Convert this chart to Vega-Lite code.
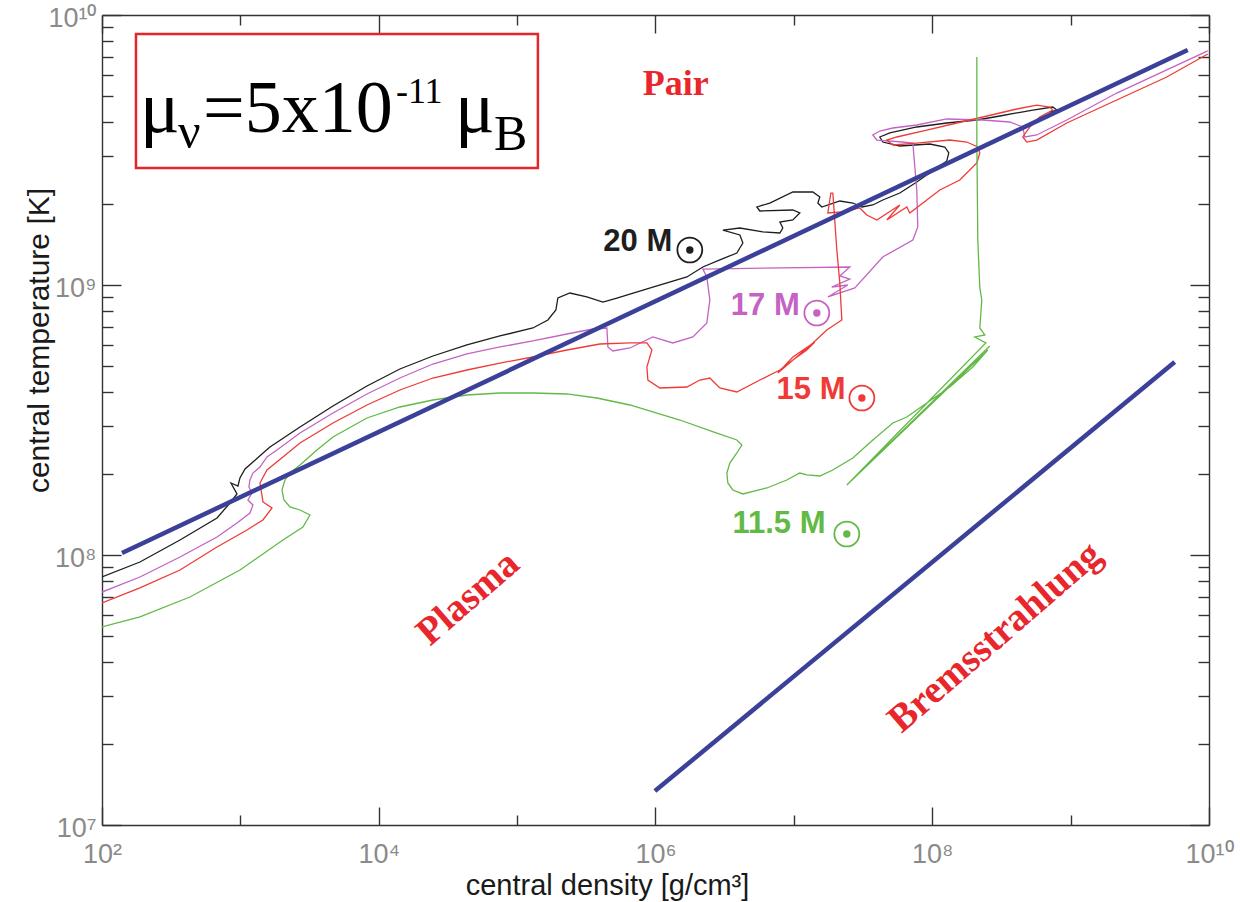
{
"$schema":"https://vega.github.io/schema/vega-lite/v6.json",
"width":1107,"height":810,
"autosize":{"type":"none"},
"padding":{"left":102,"top":15,"right":31,"bottom":77},
"background":"white",
"config":{"view":{"stroke":null}},
"datasets":{
"tracks":[
{"s":"20","i":0,"x":100,"y":8.29e7},{"s":"20","i":1,"x":188,"y":9.42e7},{"s":"20","i":2,"x":366,"y":1.137e8},{"s":"20","i":3,"x":678,"y":1.371e8},{"s":"20","i":4,"x":841,"y":1.558e8},{"s":"20","i":5,"x":945,"y":1.683e8},{"s":"20","i":6,"x":855,"y":1.848e8},{"s":"20","i":7,"x":961,"y":1.801e8},{"s":"20","i":8,"x":993,"y":1.929e8},{"s":"20","i":9,"x":1080,"y":2.082e8},{"s":"20","i":10,"x":1233,"y":2.21e8},{"s":"20","i":11,"x":1432,"y":2.366e8},{"s":"20","i":12,"x":1636,"y":2.512e8},{"s":"20","i":13,"x":2697,"y":2.979e8},{"s":"20","i":14,"x":4667,"y":3.563e8},{"s":"20","i":15,"x":8217,"y":4.227e8},{"s":"20","i":16,"x":14220,"y":4.886e8},{"s":"20","i":17,"x":24630,"y":5.458e8},{"s":"20","i":18,"x":43360,"y":5.995e8},{"s":"20","i":19,"x":75100,"y":6.474e8},{"s":"20","i":20,"x":130000,"y":6.93e8},{"s":"20","i":21,"x":166800,"y":7.42e8},{"s":"20","i":22,"x":190600,"y":8.08e8},{"s":"20","i":23,"x":197000,"y":8.95e8},{"s":"20","i":24,"x":240500,"y":9.34e8},{"s":"20","i":25,"x":319000,"y":9.03e8},{"s":"20","i":26,"x":416800,"y":8.65e8},{"s":"20","i":27,"x":525700,"y":8.95e8},{"s":"20","i":28,"x":653000,"y":9.26e8},{"s":"20","i":29,"x":957000,"y":9.83e8},{"s":"20","i":30,"x":1.686e6,"y":1.071e9},{"s":"20","i":31,"x":2.199e6,"y":1.166e9},{"s":"20","i":32,"x":2.917e6,"y":1.238e9},{"s":"20","i":33,"x":3.87e6,"y":1.314e9},{"s":"20","i":34,"x":4.28e6,"y":1.431e9},{"s":"20","i":35,"x":4.07e6,"y":1.532e9},{"s":"20","i":36,"x":3.07e6,"y":1.598e9},{"s":"20","i":37,"x":4.07e6,"y":1.626e9},{"s":"20","i":38,"x":5.97e6,"y":1.572e9},{"s":"20","i":39,"x":7.92e6,"y":1.558e9},{"s":"20","i":40,"x":8.32e6,"y":1.626e9},{"s":"20","i":41,"x":7.92e6,"y":1.711e9},{"s":"20","i":42,"x":9.83e6,"y":1.741e9},{"s":"20","i":43,"x":1.104e7,"y":1.848e9},{"s":"20","i":44,"x":9.83e6,"y":1.896e9},{"s":"20","i":45,"x":5.68e6,"y":1.88e9},{"s":"20","i":46,"x":5.4e6,"y":1.945e9},{"s":"20","i":47,"x":6.7e6,"y":2.012e9},{"s":"20","i":48,"x":9.83e6,"y":2.21e9},{"s":"20","i":49,"x":1.371e7,"y":2.21e9},{"s":"20","i":50,"x":1.54e7,"y":2.118e9},{"s":"20","i":51,"x":1.49e7,"y":2.012e9},{"s":"20","i":52,"x":1.592e7,"y":1.945e9},{"s":"20","i":53,"x":2.148e7,"y":2.047e9},{"s":"20","i":54,"x":2.667e7,"y":2.012e9},{"s":"20","i":55,"x":3.1e7,"y":1.945e9},{"s":"20","i":56,"x":3.72e7,"y":1.979e9},{"s":"20","i":57,"x":4.39e7,"y":2.065e9},{"s":"20","i":58,"x":5.83e7,"y":2.191e9},{"s":"20","i":59,"x":7.73e7,"y":2.407e9},{"s":"20","i":60,"x":1.079e8,"y":2.713e9},{"s":"20","i":61,"x":1.274e8,"y":2.88e9},{"s":"20","i":62,"x":1.317e8,"y":3.083e9},{"s":"20","i":63,"x":1.232e8,"y":3.244e9},{"s":"20","i":64,"x":9.6e7,"y":3.328e9},{"s":"20","i":65,"x":5.83e7,"y":3.272e9},{"s":"20","i":66,"x":4.39e7,"y":3.385e9},{"s":"20","i":67,"x":4.18e7,"y":3.533e9},{"s":"20","i":68,"x":4.94e7,"y":3.656e9},{"s":"20","i":69,"x":7.73e7,"y":3.848e9},{"s":"20","i":70,"x":1.274e8,"y":3.981e9},{"s":"20","i":71,"x":2.1e8,"y":4.084e9},{"s":"20","i":72,"x":3.08e8,"y":4.226e9},{"s":"20","i":73,"x":5.33e8,"y":4.447e9},{"s":"20","i":74,"x":7.43e8,"y":4.562e9},{"s":"20","i":75,"x":7.94e8,"y":4.447e9},{"s":"20","i":76,"x":7.07e8,"y":4.37e9},
{"s":"17","i":0,"x":100,"y":7.29e7},{"s":"17","i":1,"x":188,"y":8.29e7},{"s":"17","i":2,"x":366,"y":9.83e7},{"s":"17","i":3,"x":678,"y":1.166e8},{"s":"17","i":4,"x":945,"y":1.314e8},{"s":"17","i":5,"x":1173,"y":1.431e8},{"s":"17","i":6,"x":1233,"y":1.532e8},{"s":"17","i":7,"x":1134,"y":1.598e8},{"s":"17","i":8,"x":1213,"y":1.697e8},{"s":"17","i":9,"x":1153,"y":1.786e8},{"s":"17","i":10,"x":1173,"y":1.896e8},{"s":"17","i":11,"x":1233,"y":2.012e8},{"s":"17","i":12,"x":1385,"y":2.118e8},{"s":"17","i":13,"x":1556,"y":2.307e8},{"s":"17","i":14,"x":1838,"y":2.448e8},{"s":"17","i":15,"x":2697,"y":2.83e8},{"s":"17","i":16,"x":4667,"y":3.357e8},{"s":"17","i":17,"x":8217,"y":3.948e8},{"s":"17","i":18,"x":14220,"y":4.524e8},{"s":"17","i":19,"x":24630,"y":5.098e8},{"s":"17","i":20,"x":43360,"y":5.553e8},{"s":"17","i":21,"x":75100,"y":5.895e8},{"s":"17","i":22,"x":130000,"y":6.204e8},{"s":"17","i":23,"x":228900,"y":6.585e8},{"s":"17","i":24,"x":352800,"y":6.871e8},{"s":"17","i":25,"x":445400,"y":6.93e8},{"s":"17","i":26,"x":452900,"y":5.895e8},{"s":"17","i":27,"x":492000,"y":5.697e8},{"s":"17","i":28,"x":653000,"y":5.845e8},{"s":"17","i":29,"x":957000,"y":6.42e8},{"s":"17","i":30,"x":1.335e6,"y":6.1e8},{"s":"17","i":31,"x":1.862e6,"y":6.42e8},{"s":"17","i":32,"x":2.35e6,"y":7.235e8},{"s":"17","i":33,"x":2.47e6,"y":8.8e8},{"s":"17","i":34,"x":2.35e6,"y":1.071e9},{"s":"17","i":35,"x":2.199e6,"y":1.146e9},{"s":"17","i":36,"x":2.535e7,"y":1.166e9},{"s":"17","i":37,"x":2.148e7,"y":1.08e9},{"s":"17","i":38,"x":2.535e7,"y":1.052e9},{"s":"17","i":39,"x":1.879e7,"y":9.83e8},{"s":"17","i":40,"x":2.455e7,"y":1.0e9},{"s":"17","i":41,"x":1.76e7,"y":9.03e8},{"s":"17","i":42,"x":2.757e7,"y":9.75e8},{"s":"17","i":43,"x":4.39e7,"y":1.27e9},{"s":"17","i":44,"x":7.24e7,"y":1.468e9},{"s":"17","i":45,"x":7.86e7,"y":1.64e9},{"s":"17","i":46,"x":7.73e7,"y":2.248e9},{"s":"17","i":47,"x":7.24e7,"y":3.356e9},{"s":"17","i":48,"x":6.12e7,"y":3.385e9},{"s":"17","i":49,"x":3.977e7,"y":3.443e9},{"s":"17","i":50,"x":3.72e7,"y":3.594e9},{"s":"17","i":51,"x":4.18e7,"y":3.718e9},{"s":"17","i":52,"x":5.19e7,"y":3.815e9},{"s":"17","i":53,"x":7.73e7,"y":3.914e9},{"s":"17","i":54,"x":1.274e8,"y":4.12e9},{"s":"17","i":55,"x":2.32e8,"y":4.084e9},{"s":"17","i":56,"x":3.63e8,"y":4.015e9},{"s":"17","i":57,"x":4.51e8,"y":3.848e9},{"s":"17","i":58,"x":4.66e8,"y":3.533e9},{"s":"17","i":59,"x":5.69e8,"y":3.594e9},{"s":"17","i":60,"x":9.38e8,"y":4.084e9},{"s":"17","i":61,"x":2.154e9,"y":5.14e9},{"s":"17","i":62,"x":4.95e9,"y":6.26e9},{"s":"17","i":63,"x":9.79e9,"y":7.36e9},
{"s":"15","i":0,"x":100,"y":6.64e7},{"s":"15","i":1,"x":188,"y":7.55e7},{"s":"15","i":2,"x":366,"y":8.8e7},{"s":"15","i":3,"x":678,"y":1.071e8},{"s":"15","i":4,"x":1116,"y":1.238e8},{"s":"15","i":5,"x":1456,"y":1.348e8},{"s":"15","i":6,"x":1692,"y":1.493e8},{"s":"15","i":7,"x":1456,"y":1.572e8},{"s":"15","i":8,"x":1432,"y":1.668e8},{"s":"15","i":9,"x":1385,"y":1.848e8},{"s":"15","i":10,"x":1556,"y":2.065e8},{"s":"15","i":11,"x":2031,"y":2.307e8},{"s":"15","i":12,"x":2697,"y":2.598e8},{"s":"15","i":13,"x":4667,"y":3.083e8},{"s":"15","i":14,"x":8217,"y":3.594e8},{"s":"15","i":15,"x":14220,"y":4.084e8},{"s":"15","i":16,"x":24630,"y":4.524e8},{"s":"15","i":17,"x":43360,"y":4.844e8},{"s":"15","i":18,"x":75100,"y":5.14e8},{"s":"15","i":19,"x":130000,"y":5.412e8},{"s":"15","i":20,"x":228900,"y":5.745e8},{"s":"15","i":21,"x":396300,"y":6.046e8},{"s":"15","i":22,"x":653000,"y":6.1e8},{"s":"15","i":23,"x":866400,"y":6.1e8},{"s":"15","i":24,"x":941500,"y":5.745e8},{"s":"15","i":25,"x":866400,"y":4.97e8},{"s":"15","i":26,"x":880900,"y":4.447e8},{"s":"15","i":27,"x":1.076e6,"y":4.155e8},{"s":"15","i":28,"x":1.686e6,"y":4.19e8},{"s":"15","i":29,"x":2.092e6,"y":4.447e8},{"s":"15","i":30,"x":2.47e6,"y":4.524e8},{"s":"15","i":31,"x":2.917e6,"y":4.155e8},{"s":"15","i":32,"x":3.87e6,"y":4.015e8},{"s":"15","i":33,"x":5.68e6,"y":4.447e8},{"s":"15","i":34,"x":7.92e6,"y":4.844e8},{"s":"15","i":35,"x":9.83e6,"y":5.275e8},{"s":"15","i":36,"x":1.241e7,"y":5.745e8},{"s":"15","i":37,"x":1.417e7,"y":6.15e8},{"s":"15","i":38,"x":9.83e6,"y":5.412e8},{"s":"15","i":39,"x":7.66e6,"y":4.72e8},{"s":"15","i":40,"x":1.371e7,"y":6.1e8},{"s":"15","i":41,"x":1.73e7,"y":6.81e8},{"s":"15","i":42,"x":2.221e7,"y":7.42e8},{"s":"15","i":43,"x":2.148e7,"y":1.017e9},{"s":"15","i":44,"x":2.044e7,"y":1.348e9},{"s":"15","i":45,"x":1.912e7,"y":2.191e9},{"s":"15","i":46,"x":1.849e7,"y":2.191e9},{"s":"15","i":47,"x":1.76e7,"y":1.848e9},{"s":"15","i":48,"x":2.258e7,"y":1.864e9},{"s":"15","i":49,"x":2.997e7,"y":1.929e9},{"s":"15","i":50,"x":3.365e7,"y":1.817e9},{"s":"15","i":51,"x":3.977e7,"y":1.741e9},{"s":"15","i":52,"x":5.83e7,"y":1.979e9},{"s":"15","i":53,"x":4.695e7,"y":1.741e9},{"s":"15","i":54,"x":6.55e7,"y":1.945e9},{"s":"15","i":55,"x":6.88e7,"y":1.848e9},{"s":"15","i":56,"x":1.134e8,"y":2.248e9},{"s":"15","i":57,"x":1.581e8,"y":2.448e9},{"s":"15","i":58,"x":2.1e8,"y":2.83e9},{"s":"15","i":59,"x":2.207e8,"y":3.083e9},{"s":"15","i":60,"x":2.134e8,"y":3.244e9},{"s":"15","i":61,"x":1.777e8,"y":3.385e9},{"s":"15","i":62,"x":1.339e8,"y":3.443e9},{"s":"15","i":63,"x":7.73e7,"y":3.356e9},{"s":"15","i":64,"x":5.19e7,"y":3.3e9},{"s":"15","i":65,"x":4.695e7,"y":3.443e9},{"s":"15","i":66,"x":5.54e7,"y":3.533e9},{"s":"15","i":67,"x":9.13e7,"y":3.75e9},{"s":"15","i":68,"x":1.505e8,"y":3.981e9},{"s":"15","i":69,"x":2.32e8,"y":4.19e9},{"s":"15","i":70,"x":4.08e8,"y":4.486e9},{"s":"15","i":71,"x":5.69e8,"y":4.64e9},{"s":"15","i":72,"x":7.07e8,"y":4.562e9},{"s":"15","i":73,"x":7.43e8,"y":4.447e9},{"s":"15","i":74,"x":5.98e8,"y":4.19e9},{"s":"15","i":75,"x":5.07e8,"y":3.848e9},{"s":"15","i":76,"x":4.51e8,"y":3.533e9},{"s":"15","i":77,"x":4.82e8,"y":3.385e9},{"s":"15","i":78,"x":5.69e8,"y":3.443e9},{"s":"15","i":79,"x":9.38e8,"y":3.981e9},{"s":"15","i":80,"x":2.154e9,"y":4.844e9},{"s":"15","i":81,"x":4.95e9,"y":5.895e9},{"s":"15","i":82,"x":9.79e9,"y":7.17e9},
{"s":"11.5","i":0,"x":100,"y":5.412e7},{"s":"11.5","i":1,"x":188,"y":5.895e7},{"s":"11.5","i":2,"x":432,"y":6.99e7},{"s":"11.5","i":3,"x":993,"y":8.8e7},{"s":"11.5","i":4,"x":2031,"y":1.137e8},{"s":"11.5","i":5,"x":2832,"y":1.27e8},{"s":"11.5","i":6,"x":3183,"y":1.406e8},{"s":"11.5","i":7,"x":2697,"y":1.468e8},{"s":"11.5","i":8,"x":2282,"y":1.506e8},{"s":"11.5","i":9,"x":2065,"y":1.598e8},{"s":"11.5","i":10,"x":1998,"y":1.741e8},{"s":"11.5","i":11,"x":2100,"y":1.896e8},{"s":"11.5","i":12,"x":2282,"y":2.012e8},{"s":"11.5","i":13,"x":2697,"y":2.154e8},{"s":"11.5","i":14,"x":3576,"y":2.448e8},{"s":"11.5","i":15,"x":4667,"y":2.735e8},{"s":"11.5","i":16,"x":8217,"y":3.217e8},{"s":"11.5","i":17,"x":14220,"y":3.533e8},{"s":"11.5","i":18,"x":24630,"y":3.75e8},{"s":"11.5","i":19,"x":43360,"y":3.914e8},{"s":"11.5","i":20,"x":75100,"y":3.981e8},{"s":"11.5","i":21,"x":130000,"y":3.981e8},{"s":"11.5","i":22,"x":228900,"y":3.948e8},{"s":"11.5","i":23,"x":377000,"y":3.815e8},{"s":"11.5","i":24,"x":653000,"y":3.594e8},{"s":"11.5","i":25,"x":1.5e6,"y":3.162e8},{"s":"11.5","i":26,"x":2.776e6,"y":2.83e8},{"s":"11.5","i":27,"x":3.87e6,"y":2.667e8},{"s":"11.5","i":28,"x":4.21e6,"y":2.555e8},{"s":"11.5","i":29,"x":3.87e6,"y":2.387e8},{"s":"11.5","i":30,"x":3.445e6,"y":2.191e8},{"s":"11.5","i":31,"x":3.278e6,"y":2.012e8},{"s":"11.5","i":32,"x":3.333e6,"y":1.848e8},{"s":"11.5","i":33,"x":3.622e6,"y":1.741e8},{"s":"11.5","i":34,"x":4.28e6,"y":1.683e8},{"s":"11.5","i":35,"x":6.376e6,"y":1.771e8},{"s":"11.5","i":36,"x":8.89e6,"y":1.896e8},{"s":"11.5","i":37,"x":1.104e7,"y":2.012e8},{"s":"11.5","i":38,"x":1.241e7,"y":1.979e8},{"s":"11.5","i":39,"x":1.54e7,"y":1.962e8},{"s":"11.5","i":40,"x":1.912e7,"y":2.065e8},{"s":"11.5","i":41,"x":2.667e7,"y":2.287e8},{"s":"11.5","i":42,"x":3.72e7,"y":2.667e8},{"s":"11.5","i":43,"x":5.19e7,"y":3.083e8},{"s":"11.5","i":44,"x":6.55e7,"y":3.244e8},{"s":"11.5","i":45,"x":9.13e7,"y":3.656e8},{"s":"11.5","i":46,"x":1.339e8,"y":4.19e8},{"s":"11.5","i":47,"x":1.963e8,"y":4.97e8},{"s":"11.5","i":48,"x":2.52e8,"y":5.745e8},{"s":"11.5","i":49,"x":2.413e7,"y":1.817e8},{"s":"11.5","i":50,"x":2.605e8,"y":5.946e8},{"s":"11.5","i":51,"x":2.535e7,"y":1.864e8},{"s":"11.5","i":52,"x":2.438e8,"y":6.1e8},{"s":"11.5","i":53,"x":2.03e8,"y":6.42e8},{"s":"11.5","i":54,"x":2.399e8,"y":6.53e8},{"s":"11.5","i":55,"x":2.207e8,"y":6.93e8},{"s":"11.5","i":56,"x":2.28e8,"y":8.8e8},{"s":"11.5","i":57,"x":2.207e8,"y":9.75e8},{"s":"11.5","i":58,"x":2.134e8,"y":1.468e9},{"s":"11.5","i":59,"x":2.1e8,"y":3.443e9},{"s":"11.5","i":60,"x":2.1e8,"y":6.99e9}
],
"blue":[{"seg":"a","i":0,"x":139.5,"y":1.017e8},{"seg":"a","i":1,"x":7.02e9,"y":7.42e9},{"seg":"b","i":0,"x":9.9e5,"y":1.336e7},{"seg":"b","i":1,"x":5.65e9,"y":5.185e8}],
"box":[{"x":176,"x2":141300,"y":8.51e9,"y2":2.713e9}],
"muBig":[{"t":"μ","x":188,"y":3.687e9},{"t":"=5x10","x":537,"y":3.687e9},{"t":"μ","x":35520,"y":3.687e9}],
"muSub":[{"t":"ν","x":354,"y":3.217e9},{"t":"B","x":67960,"y":3.162e9}],
"muSup":[{"t":"-11","x":13310,"y":4.72e9}],
"pair":[{"t":"Pair","x":1.4e6,"y":5.05e9}],
"regions":[{"t":"Plasma","x":44060,"y":6.93e7},{"t":"Bremsstrahlung","x":2.83e8,"y":4.97e7}],
"starLabels":[{"s":"20","t":"20 M","x":4.2e5,"y":1.337e9},{"s":"17","t":"17 M","x":3.5e6,"y":7.74e8},{"s":"15","t":"15 M","x":7.5e6,"y":3.782e8},{"s":"11.5","t":"11.5 M","x":3.6e6,"y":1.206e8}],
"suns":[{"s":"20","x":1.77e6,"y":1.348e9},{"s":"17","x":1.465e7,"y":7.876e8},{"s":"15","x":3.1e7,"y":3.815e8},{"s":"11.5","x":2.413e7,"y":1.196e8}]
},
"layer":[
{"data":{"name":"tracks"},"mark":{"type":"line","strokeWidth":1.3,"clip":true},
 "encoding":{
  "x":{"field":"x","type":"quantitative","scale":{"type":"log","domain":[100,1e10],"nice":false},
   "axis":{"orient":"bottom","values":[100,1e4,1e6,1e8,1e10],"tickSize":-18,"tickWidth":1.4,"tickColor":"#333","domainColor":"#333","domainWidth":1.4,"grid":false,"labelPadding":34,"labelExpr":"'10' + ['⁰','¹','²','³','⁴','⁵','⁶','⁷','⁸','⁹','¹⁰'][round(log(datum.value)/LN10)]","labelFont":"Liberation Sans","labelFontSize":27,"labelColor":"#8a8a8a","labelFlush":false,"labelOverlap":false,"labelBound":false,"labelBaseline":"top","title":"central density [g/cm³]","titleFont":"Liberation Sans","titleFontSize":29,"titleFontWeight":"normal","titleColor":"#1a1a1a","titleX":505,"titleY":69,"titleBaseline":"alphabetic","titleAlign":"center"}},
  "y":{"field":"y","type":"quantitative","scale":{"type":"log","domain":[1e7,1e10],"nice":false},
   "axis":{"orient":"left","values":[1e7,1e8,1e9,1e10],"tickSize":-19,"tickWidth":1.4,"tickColor":"#333","domainColor":"#333","domainWidth":1.4,"grid":false,"labelPadding":25,"labelOffset":3,"labelExpr":"'10' + ['⁰','¹','²','³','⁴','⁵','⁶','⁷','⁸','⁹','¹⁰'][round(log(datum.value)/LN10)]","labelFont":"Liberation Sans","labelFontSize":27,"labelColor":"#8a8a8a","labelFlush":false,"labelOverlap":false,"labelBound":false,"labelBaseline":"middle","labelAlign":"right","title":"central temperature [K]","titleFont":"Liberation Sans","titleFontSize":30,"titleFontWeight":"normal","titleColor":"#1a1a1a","titleX":-54,"titleY":325,"titleAngle":270,"titleBaseline":"alphabetic","titleAlign":"center"}},
  "color":{"field":"s","type":"nominal","scale":{"domain":["20","17","15","11.5"],"range":["#1e1e1e","#c463c4","#ef3b36","#62b946"]},"legend":null},
  "order":{"field":"i","type":"quantitative"}
 }},
{"data":{"name":"blue"},"mark":{"type":"line","strokeWidth":4.5,"color":"#3b4099","clip":true},
 "encoding":{
  "x":{"field":"x","type":"quantitative","axis":{"orient":"bottom","values":[1e3,1e5,1e7,1e9],"tickSize":-10,"tickWidth":1.4,"tickColor":"#333","domain":false,"labels":false,"grid":false,"title":null}},
  "y":{"field":"y","type":"quantitative","axis":{"orient":"left","values":[2e7,3e7,4e7,5e7,6e7,7e7,8e7,9e7,2e8,3e8,4e8,5e8,6e8,7e8,8e8,9e8,2e9,3e9,4e9,5e9,6e9,7e9,8e9,9e9],"tickSize":-11,"tickWidth":1.4,"tickColor":"#333","domain":false,"labels":false,"grid":false,"title":null}},
  "detail":{"field":"seg"},
  "order":{"field":"i","type":"quantitative"}
 }},
{"data":{"name":"box"},"mark":{"type":"rect","fillOpacity":0,"stroke":"#e3262b","strokeWidth":2.5},
 "encoding":{
  "x":{"field":"x","type":"quantitative","axis":{"orient":"top","values":[100,1e4,1e6,1e8,1e10],"tickSize":-18,"tickWidth":1.4,"tickColor":"#333","domainColor":"#333","domainWidth":1.4,"labels":false,"grid":false,"title":null}},
  "x2":{"field":"x2"},
  "y":{"field":"y","type":"quantitative","axis":{"orient":"right","values":[1e7,1e8,1e9,1e10],"tickSize":-19,"tickWidth":1.4,"tickColor":"#333","domainColor":"#333","domainWidth":1.4,"labels":false,"grid":false,"title":null}},
  "y2":{"field":"y2"}
 }},
{"data":{"name":"muBig"},"mark":{"type":"text","font":"Liberation Serif","fontSize":74,"align":"left","baseline":"alphabetic","color":"#000"},
 "encoding":{
  "x":{"field":"x","type":"quantitative","axis":{"orient":"top","values":[1e3,1e5,1e7,1e9],"tickSize":-10,"tickWidth":1.4,"tickColor":"#333","domain":false,"labels":false,"grid":false,"title":null}},
  "y":{"field":"y","type":"quantitative","axis":{"orient":"right","values":[2e7,3e7,4e7,5e7,6e7,7e7,8e7,9e7,2e8,3e8,4e8,5e8,6e8,7e8,8e8,9e8,2e9,3e9,4e9,5e9,6e9,7e9,8e9,9e9],"tickSize":-11,"tickWidth":1.4,"tickColor":"#333","domain":false,"labels":false,"grid":false,"title":null}},
  "text":{"field":"t"}
 }},
{"data":{"name":"muSub"},"mark":{"type":"text","font":"Liberation Serif","fontSize":50,"align":"left","baseline":"alphabetic","color":"#000"},
 "encoding":{"x":{"field":"x","type":"quantitative","axis":null},"y":{"field":"y","type":"quantitative","axis":null},"text":{"field":"t"}}},
{"data":{"name":"muSup"},"mark":{"type":"text","font":"Liberation Serif","fontSize":36,"align":"left","baseline":"alphabetic","color":"#000"},
 "encoding":{"x":{"field":"x","type":"quantitative","axis":null},"y":{"field":"y","type":"quantitative","axis":null},"text":{"field":"t"}}},
{"data":{"name":"pair"},"mark":{"type":"text","font":"Liberation Serif","fontWeight":"bold","fontSize":36,"align":"center","baseline":"alphabetic","color":"#e8262b"},
 "encoding":{"x":{"field":"x","type":"quantitative","axis":null},"y":{"field":"y","type":"quantitative","axis":null},"text":{"field":"t"}}},
{"data":{"name":"regions"},"mark":{"type":"text","font":"Liberation Serif","fontWeight":"bold","fontSize":39,"align":"center","baseline":"middle","angle":319,"color":"#e8262b"},
 "encoding":{"x":{"field":"x","type":"quantitative","axis":null},"y":{"field":"y","type":"quantitative","axis":null},"text":{"field":"t"}}},
{"data":{"name":"starLabels"},"mark":{"type":"text","font":"Liberation Sans","fontWeight":"bold","fontSize":31,"align":"left","baseline":"alphabetic"},
 "encoding":{"x":{"field":"x","type":"quantitative","axis":null},"y":{"field":"y","type":"quantitative","axis":null},"text":{"field":"t"},"color":{"field":"s","type":"nominal","legend":null}}},
{"data":{"name":"suns"},"mark":{"type":"point","shape":"circle","filled":false,"size":620,"strokeWidth":1.8,"opacity":1},
 "encoding":{"x":{"field":"x","type":"quantitative","axis":null},"y":{"field":"y","type":"quantitative","axis":null},"color":{"field":"s","type":"nominal","legend":null}}},
{"data":{"name":"suns"},"mark":{"type":"point","shape":"circle","filled":true,"size":55,"opacity":1},
 "encoding":{"x":{"field":"x","type":"quantitative","axis":null},"y":{"field":"y","type":"quantitative","axis":null},"color":{"field":"s","type":"nominal","legend":null}}}
],
"resolve":{"axis":{"x":"independent","y":"independent"}}
}
